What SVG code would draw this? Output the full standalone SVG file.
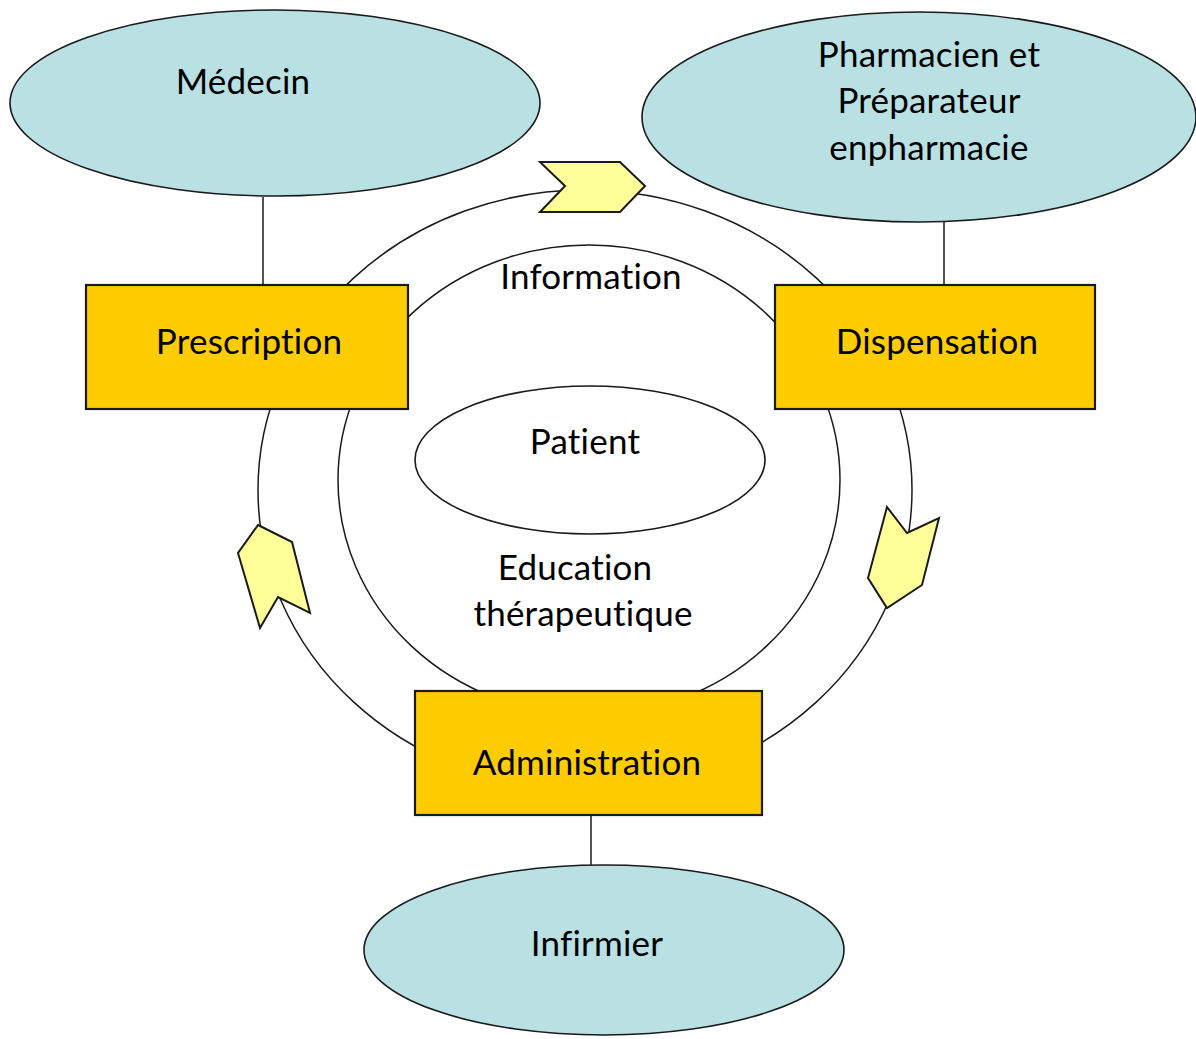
<svg xmlns="http://www.w3.org/2000/svg" width="1196" height="1039" viewBox="0 0 1196 1039">
  <style>
    .actor { fill: #b9e0e3; stroke: #1a1a1a; stroke-width: 1.6; }
    .step { fill: #ffcc00; stroke: #1a1a1a; stroke-width: 2.2; }
    .flow { fill: none; stroke: #1a1a1a; stroke-width: 1.5; }
    .arrow { fill: #ffff99; stroke: #1a1a1a; stroke-width: 2; stroke-linejoin: miter; }
    .patient { fill: #ffffff; stroke: #1a1a1a; stroke-width: 1.6; }
    text { font-family: Lato, "Open Sans", "DejaVu Sans", sans-serif; font-size: 35px; fill: #000; text-anchor: middle; font-variant-ligatures: none; font-feature-settings: "liga" 0, "clig" 0, "dlig" 0, "calt" 0; letter-spacing: 0.2px; }
  </style>

  <!-- cycle rings and actor links -->
  <g id="connectors">
    <ellipse class="flow" cx="585" cy="490" rx="327" ry="300"/>
    <ellipse class="flow" cx="589" cy="480" rx="251" ry="235"/>
    <line class="flow" x1="263" y1="197" x2="263" y2="292"/>
    <line class="flow" x1="944" y1="221" x2="944" y2="286"/>
    <line class="flow" x1="591" y1="815" x2="591" y2="866"/>
    <polygon class="arrow" points="540,162 620,162 645,186 620,212 540,212 565,186"/>
    <polygon class="arrow" points="887,507 907,533 939,518 922,585 887,608 868,578"/>
    <polygon class="arrow" points="258,525 292,542 310,613 278,597 260,628 238,553"/>
  </g>

  <g id="medecin">
    <ellipse class="actor" cx="275" cy="103" rx="265" ry="93"/>
    <text x="243" y="94">Médecin</text>
  </g>

  <g id="pharmacien">
    <ellipse class="actor" cx="919" cy="117" rx="277" ry="105"/>
    <text x="929" y="67">Pharmacien et</text>
    <text x="929" y="113">Préparateur</text>
    <text x="929" y="160">enpharmacie</text>
  </g>

  <g id="infirmier">
    <ellipse class="actor" cx="604" cy="950" rx="240" ry="85"/>
    <text x="597" y="956">Infirmier</text>
  </g>

  <g id="prescription">
    <rect class="step" x="86" y="285" width="322" height="124"/>
    <text x="249" y="354">Prescription</text>
  </g>

  <g id="dispensation">
    <rect class="step" x="775" y="285" width="320" height="124"/>
    <text x="937" y="354">Dispensation</text>
  </g>

  <g id="administration">
    <rect class="step" x="415" y="691" width="347" height="124"/>
    <text x="587" y="775">Administration</text>
  </g>

  <g id="patient">
    <ellipse class="patient" cx="590" cy="460" rx="175" ry="74"/>
    <text x="585" y="454">Patient</text>
  </g>

  <g id="labels">
    <text x="591" y="289">Information</text>
    <text x="575" y="580">Education</text>
    <text x="583" y="626">thérapeutique</text>
  </g>
</svg>
